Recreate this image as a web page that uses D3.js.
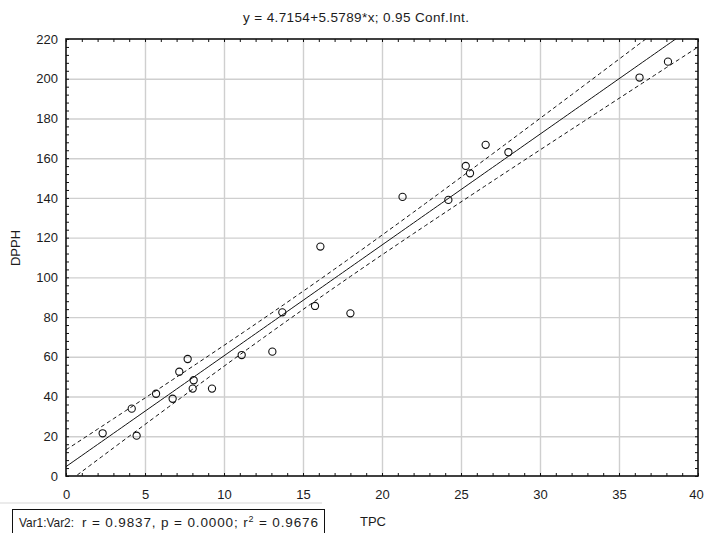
<!DOCTYPE html>
<html>
<head>
<meta charset="utf-8">
<script src="https://cdn.jsdelivr.net/npm/d3@7"></script>
<style>
  body { margin: 0; background: #fff; }
  svg text { font-family: "Liberation Sans", Arial, sans-serif; fill: #1c1c1c; }
</style>
</head>
<body>
<div id="chart"></div>
<script>
// data (TPC vs DPPH)
const tpc  = [2.32, 4.16, 4.47, 5.70, 6.75, 7.17, 7.70, 8.08, 8.02, 9.24, 11.12, 13.06,
              13.69, 15.76, 16.1, 18.0, 21.3, 24.2, 25.3, 25.57, 26.56, 28.0, 36.3, 38.1];
const dpph = [21.5, 33.9, 20.3, 41.4, 38.9, 52.5, 58.9, 48.2, 44.0, 44.0, 60.9, 62.6,
              82.4, 85.6, 115.5, 81.9, 140.5, 139, 156.1, 152.4, 166.7, 163, 200.6, 208.6];

// fit reported in the title
const intercept = 4.7154, slope = 5.5789;
const tCrit = 2.0739; // t(0.975, df = 22)

const xTicks = [0, 5, 10, 15, 20, 25, 30, 35, 40];
const yTicks = [0, 20, 40, 60, 80, 100, 120, 140, 160, 180, 200, 220];
const titleText = "y = 4.7154+5.5789*x; 0.95 Conf.Int.";
const xTitle = "TPC", yTitle = "DPPH";

// =====================
// layout
// =====================
const W = 704, H = 533;
const plot = {left: 66, right: 698, top: 39, bottom: 476};

const x = d3.scaleLinear().domain([0, 40]).range([plot.left, plot.right]);
const y = d3.scaleLinear().domain([0, 220]).range([plot.bottom, plot.top]);

const svg = d3.select("#chart").append("svg")
    .attr("width", W).attr("height", H);

svg.append("rect").attr("width", W).attr("height", H).attr("fill", "#fff");

// grid lines
svg.append("g")
    .attr("transform", "translate(0," + plot.bottom + ")")
    .call(d3.axisBottom(x).tickValues(xTicks.slice(1, -1)).tickSize(-(plot.bottom - plot.top)).tickFormat(""))
    .call(g => g.select(".domain").remove())
    .call(g => g.selectAll("line").attr("stroke", "#cfcfcf").attr("stroke-width", 1.4));
svg.append("g")
    .attr("transform", "translate(" + plot.left + ",0)")
    .call(d3.axisLeft(y).tickValues(yTicks.slice(1, -1)).tickSize(-(plot.right - plot.left)).tickFormat(""))
    .call(g => g.select(".domain").remove())
    .call(g => g.selectAll("line").attr("stroke", "#cfcfcf").attr("stroke-width", 1.4));

// confidence band for the mean response
const n = tpc.length;
const xbar = d3.mean(tpc);
const sxx = d3.sum(tpc, v => (v - xbar) * (v - xbar));
const sse = d3.sum(tpc, (v, i) => Math.pow(dpph[i] - (intercept + slope * v), 2));
const se = Math.sqrt(sse / (n - 2));
const xs = d3.range(0, 40.01, 0.25);
const band = xs.map(v => {
  const fit = intercept + slope * v;
  const h = tCrit * se * Math.sqrt(1 / n + (v - xbar) * (v - xbar) / sxx);
  return {x: v, fit: fit, lo: fit - h, hi: fit + h};
});

svg.append("defs").append("clipPath").attr("id", "clip")
  .append("rect")
    .attr("x", plot.left).attr("y", plot.top)
    .attr("width", plot.right - plot.left).attr("height", plot.bottom - plot.top);

const lines = svg.append("g").attr("clip-path", "url(#clip)");
const mk = key => d3.line().x(d => x(d.x)).y(d => y(d[key]));

lines.append("path").datum(band).attr("d", mk("fit"))
    .attr("fill", "none").attr("stroke", "#111").attr("stroke-width", 1);
["lo", "hi"].forEach(k => {
  lines.append("path").datum(band).attr("d", mk(k))
      .attr("fill", "none").attr("stroke", "#111").attr("stroke-width", 1)
      .attr("stroke-dasharray", "4,3");
});

// points
svg.append("g").selectAll("circle")
  .data(tpc)
  .join("circle")
    .attr("cx", d => x(d))
    .attr("cy", (d, i) => y(dpph[i]))
    .attr("r", 3.6)
    .attr("fill", "none")
    .attr("stroke", "#111")
    .attr("stroke-width", 1.1);

// inward minor ticks on all four sides
const xMinor = d3.range(0, 41, 1), yMinor = d3.range(0, 221, 4);
const tickStyle = g => {
  g.select(".domain").remove();
  g.selectAll("line").attr("stroke", "#111").attr("stroke-width", 1);
};
svg.append("g").attr("transform", "translate(0," + plot.bottom + ")")
    .call(d3.axisBottom(x).tickValues(xMinor).tickSize(-3).tickFormat("")).call(tickStyle);
svg.append("g").attr("transform", "translate(0," + plot.top + ")")
    .call(d3.axisTop(x).tickValues(xMinor).tickSize(-3).tickFormat("")).call(tickStyle);
svg.append("g").attr("transform", "translate(" + plot.left + ",0)")
    .call(d3.axisLeft(y).tickValues(yMinor).tickSize(-3).tickFormat("")).call(tickStyle);
svg.append("g").attr("transform", "translate(" + plot.right + ",0)")
    .call(d3.axisRight(y).tickValues(yMinor).tickSize(-3).tickFormat("")).call(tickStyle);

// frame
svg.append("rect")
    .attr("x", plot.left).attr("y", plot.top)
    .attr("width", plot.right - plot.left).attr("height", plot.bottom - plot.top)
    .attr("fill", "none").attr("stroke", "#111").attr("stroke-width", 1.6);

// tick labels
svg.append("g").attr("transform", "translate(0," + plot.bottom + ")")
    .call(d3.axisBottom(x).tickValues(xTicks).tickSize(0).tickPadding(14))
    .call(g => g.select(".domain").remove())
    .call(g => g.selectAll("text").attr("font-size", 13).attr("font-family", null).attr("fill", null))
    .call(g => g.selectAll("text").filter(d => d === 40).attr("dx", -2));
svg.append("g").attr("transform", "translate(" + plot.left + ",0)")
    .call(d3.axisLeft(y).tickValues(yTicks).tickSize(0).tickPadding(8))
    .call(g => g.select(".domain").remove())
    .call(g => g.selectAll("text").attr("font-size", 13).attr("font-family", null).attr("fill", null));

// titles
svg.append("text").attr("x", 356).attr("y", 22)
    .attr("text-anchor", "middle").attr("font-size", 13.5)
    .attr("textLength", 226).attr("lengthAdjust", "spacing")
    .text(titleText);
svg.append("text").attr("x", 373).attr("y", 526)
    .attr("text-anchor", "middle").attr("font-size", 13)
    .text(xTitle);
svg.append("text")
    .attr("transform", "translate(20,248) rotate(-90)")
    .attr("text-anchor", "middle").attr("font-size", 13)
    .text(yTitle);

// stats box bottom left
svg.append("line").attr("x1", 0).attr("x2", 322).attr("y1", 503).attr("y2", 503)
    .attr("stroke", "#e4e4e4").attr("stroke-width", 1.5);
svg.append("rect").attr("x", 12.5).attr("y", 509.5).attr("width", 312).attr("height", 30)
    .attr("fill", "#fff").attr("stroke", "#111").attr("stroke-width", 1);
svg.append("text").attr("x", 19).attr("y", 527).attr("font-size", 13.5)
    .attr("textLength", 55).attr("lengthAdjust", "spacingAndGlyphs")
    .text("Var1:Var2:");
const st = svg.append("text").attr("x", 82).attr("y", 527).attr("font-size", 13.5);
st.append("tspan").text("r = 0.9837, p = 0.0000; r");
st.append("tspan").attr("font-size", 9).attr("dy", -5.5).text("2");
st.append("tspan").attr("dy", 5.5).text(" = 0.9676");
// spread letters so the line ends near the box edge, as in the original
const natural = st.node().getComputedTextLength();
const nChars = st.text().length;
st.attr("letter-spacing", Math.max(0, (236 - natural) / (nChars - 1)));
</script>
</body>
</html>
